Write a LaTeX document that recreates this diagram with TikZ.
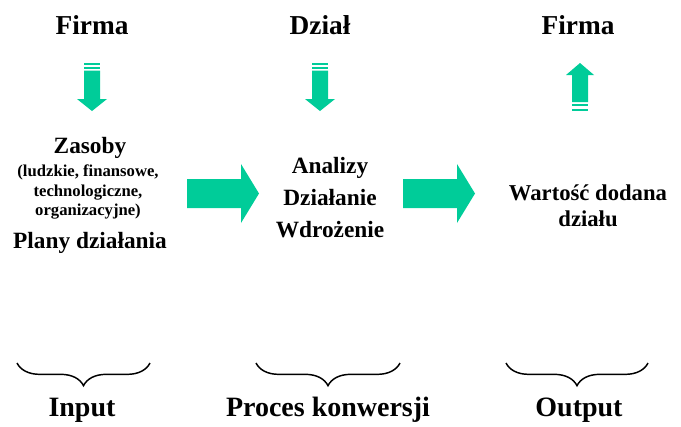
\documentclass[tikz,border=0pt]{standalone}
\usepackage{fontspec}
\setmainfont{Liberation Serif}
\usetikzlibrary{decorations.pathreplacing}
\definecolor{arrowgreen}{RGB}{0,204,153}

\begin{document}
\begin{tikzpicture}[x=0.75pt,y=-0.75pt,
    bigtext/.style={font=\bfseries\fontsize{20.5}{24}\selectfont},
    bottomtext/.style={font=\bfseries\fontsize{21}{25}\selectfont},
    midtext/.style={font=\bfseries\fontsize{17.5}{24}\selectfont,align=center},
    smalltext/.style={font=\bfseries\fontsize{12.5}{14.6}\selectfont,align=center},
    blockarrow/.style={fill=arrowgreen,draw=none},
    bracebelow/.style={decorate,decoration={brace,mirror,amplitude=17pt},line width=1.1pt}]
    \useasboundingbox (0,0) rectangle (681,426);

    % Headings
    \node[bigtext] (firmain) at (92,25) {Firma};
    \node[bigtext] (dzial) at (320,25) {Dział};
    \node[bigtext] (firmaout) at (578,25) {Firma};

    % Striped arrows down
    \foreach \x in {92,320} {
        \fill[blockarrow] (\x-8,63) rectangle (\x+8,65);
        \fill[blockarrow] (\x-8,66.5) rectangle (\x+8,69);
        \fill[blockarrow] (\x-8,70.5) -- (\x+8,70.5) -- (\x+8,99) -- (\x+15,99)
            -- (\x,111) -- (\x-15,99) -- (\x-8,99) -- cycle;
    }
    % Striped arrow up
    \fill[blockarrow] (572,75) -- (566,75) -- (580,63) -- (594,75) -- (588,75)
        -- (588,102) -- (572,102) -- cycle;
    \fill[blockarrow] (572,103.5) rectangle (588,106);
    \fill[blockarrow] (572,108.5) rectangle (588,111);

    % Block arrows to the right
    \foreach \x in {0,216} {
        \fill[blockarrow,xshift=\x*0.75pt] (187,179) -- (241,179) -- (241,164) -- (259,193.5)
            -- (241,223) -- (241,208) -- (187,208) -- cycle;
    }

    % Input column
    \node[midtext] (zasoby) at (90,148) {Zasoby};
    \node[smalltext] (zasobyopis) at (88,192) {(ludzkie, finansowe,\\technologiczne,\\organizacyjne)};
    \node[midtext] (plany) at (90,243) {Plany działania};

    % Conversion column
    \node[midtext] (konwersja) at (330,198) {Analizy\\Działanie\\Wdrożenie};

    % Output column
    \node[midtext,font=\bfseries\fontsize{17}{19.5}\selectfont] (wartosc) at (588,206) {Wartość dodana\\działu};

    % Braces
    \coordinate (b1l) at (17,363);
    \coordinate (b1r) at (150,363);
    \coordinate (b2l) at (256,363);
    \coordinate (b2r) at (400,363);
    \coordinate (b3l) at (506,363);
    \coordinate (b3r) at (648,363);
    \draw[bracebelow] (b1l) -- (b1r);
    \draw[bracebelow] (b2l) -- (b2r);
    \draw[bracebelow] (b3l) -- (b3r);

    % Bottom labels
    \node[bottomtext] (input) at (82,410) {Input};
    \node[bottomtext] (proces) at (328,410) {Proces konwersji};
    \node[bottomtext] (output) at (579,410) {Output};
\end{tikzpicture}
\end{document}
